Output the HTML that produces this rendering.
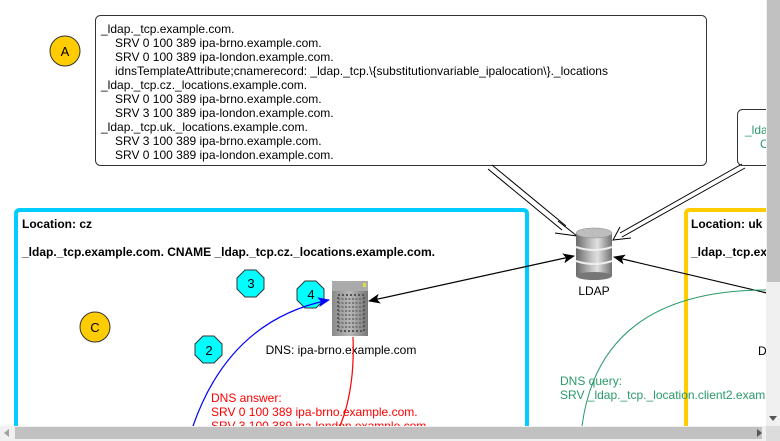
<!DOCTYPE html>
<html><head><meta charset="utf-8"><style>
html,body{margin:0;padding:0;background:#fff;width:780px;height:441px;overflow:hidden}
svg{display:block;font-family:"Liberation Sans",Arial,sans-serif}
</style></head><body>
<svg width="780" height="441" viewBox="0 0 780 441" xmlns="http://www.w3.org/2000/svg">
<defs>
<linearGradient id="cyl" x1="0" x2="1" y1="0" y2="0">
<stop offset="0" stop-color="#6a6a6a"/><stop offset="0.45" stop-color="#c8c8c8"/><stop offset="0.6" stop-color="#e0e0e0"/><stop offset="1" stop-color="#707070"/></linearGradient>
<linearGradient id="srv" x1="0" x2="1"><stop offset="0" stop-color="#8a8a8a"/><stop offset="0.5" stop-color="#b8b8b8"/><stop offset="1" stop-color="#777"/></linearGradient>
<marker id="ab" markerWidth="12" markerHeight="10" refX="11" refY="5" orient="auto-start-reverse" markerUnits="userSpaceOnUse"><path d="M0,0 L12,5 L0,10 L3,5 Z" fill="#000"/></marker>
<marker id="abl" markerWidth="12" markerHeight="10" refX="11" refY="5" orient="auto" markerUnits="userSpaceOnUse"><path d="M0,0 L12,5 L0,10 L3,5 Z" fill="#00f"/></marker>
</defs>

<path d="M16,426 L16,214 Q16,210 20,210 L523,210 Q527,210 527,214 L527,426" fill="none" stroke="#00ccff" stroke-width="4"/>
<path d="M686,426 L686,214 Q686,210 690,210 L770,210" fill="none" stroke="#ffcc00" stroke-width="4"/>

<rect x="95.5" y="15.5" width="611" height="150" rx="5" fill="#fff" stroke="#333"/>
<g font-size="12" fill="#000">
<text x="101" y="33">_ldap._tcp.example.com.</text>
<text x="115" y="47">SRV 0 100 389 ipa-brno.example.com.</text>
<text x="115" y="61">SRV 0 100 389 ipa-london.example.com.</text>
<text x="115" y="75">idnsTemplateAttribute;cnamerecord: _ldap._tcp.\{substitutionvariable_ipalocation\}._locations</text>
<text x="101" y="89">_ldap._tcp.cz._locations.example.com.</text>
<text x="115" y="103">SRV 0 100 389 ipa-brno.example.com.</text>
<text x="115" y="117">SRV 3 100 389 ipa-london.example.com.</text>
<text x="101" y="131">_ldap._tcp.uk._locations.example.com.</text>
<text x="115" y="145">SRV 3 100 389 ipa-brno.example.com.</text>
<text x="115" y="159">SRV 0 100 389 ipa-london.example.com.</text>
</g>
<rect x="737.5" y="109.5" width="60" height="56" rx="5" fill="#fff" stroke="#333"/>
<text x="745" y="134" font-size="12" fill="#2a9a6a">_lda</text>
<text x="760" y="148" font-size="12" fill="#2a9a6a">C</text>

<circle cx="65" cy="51" r="15" fill="#ffcc00" stroke="#333"/>
<text x="65" y="56" font-size="13" text-anchor="middle">A</text>
<circle cx="95" cy="327" r="15" fill="#ffcc00" stroke="#333"/>
<text x="95" y="332" font-size="13" text-anchor="middle">C</text>

<g fill="none" stroke="#000" stroke-width="1">
<path d="M492,165 L566,226"/><path d="M488,169 L562,230"/>
<path d="M558,221 L577,236 L555,233"/>
<path d="M742,164 L620,233"/><path d="M745,168 L622,237"/>
<path d="M620,227 L613,240 L631,238"/>
</g>
<line x1="369" y1="301" x2="574" y2="256" stroke="#000" marker-start="url(#ab)" marker-end="url(#ab)" stroke-width="1.2"/>
<line x1="767" y1="293" x2="614" y2="257" stroke="#000" marker-end="url(#ab)" stroke-width="1.2"/>

<g>
<rect x="576" y="233" width="36" height="43" fill="url(#cyl)"/>
<ellipse cx="594" cy="276" rx="18" ry="4" fill="#777"/>
<ellipse cx="594" cy="233" rx="18" ry="5" fill="#bdbdbd" stroke="#888" stroke-width="0.5"/>
<path d="M576,247 Q594,253 612,247" stroke="#eee" stroke-width="2" fill="none"/>
<path d="M576,261 Q594,267 612,261" stroke="#eee" stroke-width="2" fill="none"/>
</g>
<text x="594" y="295" font-size="12" text-anchor="middle">LDAP</text>

<rect x="332" y="281" width="36" height="55" fill="url(#srv)"/>
<rect x="332" y="281" width="36" height="10" fill="#aaa"/>
<rect x="363" y="283" width="3" height="4" fill="#dd4"/>
<rect x="338" y="295" width="26" height="36" fill="none" stroke="#555" stroke-dasharray="2 2" stroke-width="2"/>
<path d="M338,299 H364 M338,303 H364 M338,307 H364 M338,311 H364 M338,315 H364 M338,319 H364 M338,323 H364 M338,327 H364" stroke="#666" stroke-width="1.5" stroke-dasharray="2 1.5"/>
<text x="341" y="354" font-size="12" text-anchor="middle">DNS: ipa-brno.example.com</text>

<g fill="#00ffff" stroke="#333">
<polygon points="245,270 256,270 264,278 264,289 256,297 245,297 237,289 237,278"/>
<polygon points="305,281 316,281 324,289 324,300 316,308 305,308 297,300 297,289"/>
<polygon points="203,336 214,336 222,344 222,355 214,363 203,363 195,355 195,344"/>
</g>
<g font-size="13" text-anchor="middle">
<text x="251" y="288">3</text><text x="311" y="299">4</text><text x="209" y="355">2</text>
</g>

<path d="M193,426 Q230,320 329,300" fill="none" stroke="#00f" stroke-width="1.2" marker-end="url(#abl)"/>
<path d="M353,337 Q355,390 340,426" fill="none" stroke="#f00" stroke-width="1.2"/>
<path d="M582,426 Q600,290 767,290" fill="none" stroke="#2a9a6a" stroke-width="1"/>

<text x="22" y="228" font-size="12" font-weight="bold">Location: cz</text>
<text x="22" y="256" font-size="12" font-weight="bold" textLength="413">_ldap._tcp.example.com. CNAME _ldap._tcp.cz._locations.example.com.</text>
<text x="691" y="228" font-size="12" font-weight="bold">Location: uk</text>
<text x="691" y="256" font-size="12" font-weight="bold">_ldap._tcp.ex</text>
<text x="758" y="355" font-size="12">D</text>
<g font-size="12" fill="#2a9a6a">
<text x="560" y="385">DNS query:</text>
<text x="560" y="399">SRV _ldap._tcp._location.client2.exam</text>
</g>
<g font-size="12" fill="#f00">
<text x="211" y="402">DNS answer:</text>
<text x="211" y="416">SRV 0 100 389 ipa-brno.example.com.</text>
<text x="211" y="430">SRV 3 100 389 ipa-london.example.com.</text>
</g>

<rect x="766" y="0" width="14" height="441" fill="#f0f0f0"/>
<rect x="767" y="0" width="13" height="282" fill="#c1c1c1"/>
<path d="M769,416 L777,416 L773,421 Z" fill="#555"/>
<rect x="0" y="426" width="780" height="15" fill="#f0f0f0"/>
<rect x="15" y="427" width="747" height="12" fill="#c1c1c1"/>
<path d="M9,429 L9,437 L4,433 Z" fill="#a0a0a0"/>
<path d="M757,429 L757,437 L762,433 Z" fill="#555"/>
<rect x="766" y="426" width="14" height="15" fill="#dcdcdc"/>
</svg>
</body></html>
